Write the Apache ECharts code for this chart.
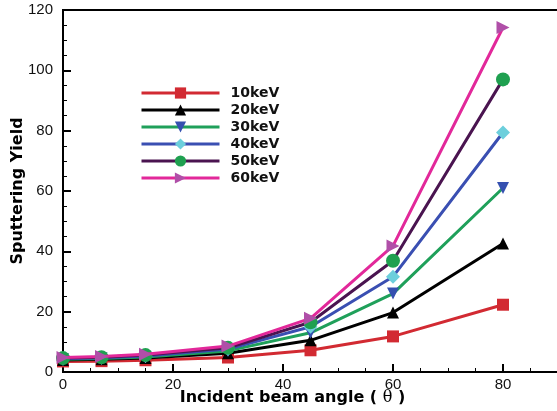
<!DOCTYPE html>
<html><head><meta charset="utf-8">
<script src="https://cdn.jsdelivr.net/npm/echarts@6/dist/echarts.min.js"></script>
<style>html,body{margin:0;padding:0;background:#fff}#c{width:557px;height:411px}</style>
</head><body><div id="c"></div>
<script>
const angles = [0, 7, 15, 30, 45, 60, 80];
const seriesNames = ['10keV', '20keV', '30keV', '40keV', '50keV', '60keV'];
const y10 = [3.5, 3.6, 3.9, 4.8, 7.2, 11.8, 22.3];
const y20 = [4.0, 4.2, 4.6, 6.2, 10.5, 19.7, 42.6];
const y30 = [4.2, 4.5, 5.0, 7.0, 13.0, 26.0, 61.0];
const y40 = [4.4, 4.7, 5.3, 7.6, 15.0, 31.6, 79.4];
const y50 = [4.6, 4.9, 5.6, 8.0, 16.5, 36.9, 97.0];
const y60 = [4.8, 5.1, 5.9, 8.6, 17.8, 41.8, 114.2];
const values = [y10, y20, y30, y40, y50, y60];
const lineColors = ['#d22a32', '#000000', '#1fa05a', '#3a4fb2', '#4a1450', '#e2289a'];
const markColors = ['#d22a32', '#000000', '#3550b0', '#6ccfdc', '#1fa050', '#b04fa8'];
const symbols = ['rect', 'triangle', 'path://M0,0 L10,0 L5,9 Z', 'diamond', 'circle', 'path://M0,0 L9,5 L0,10 Z'];
const sizes = [12, 12, 12, 14, 14, 13];

const chart = echarts.init(document.getElementById('c'));
const series = seriesNames.map((n, i) => ({
  name: n, type: 'line',
  data: angles.map((a, j) => [a, values[i][j]]),
  symbol: symbols[i], symbolSize: sizes[i],
  lineStyle: { color: lineColors[i], width: 3 },
  itemStyle: { color: markColors[i] },
  z: 2 + i
}));
const titleFont = 'DejaVu Sans, Liberation Sans, Arial';
chart.setOption({
  animation: false,
  grid: { left: 63, top: 10, width: 495, height: 362, show: true, borderColor: '#000', borderWidth: 2,
          containLabel: false, outerBoundsMode: 'none' },
  legend: {
    orient: 'vertical', left: 135, top: 81, itemWidth: 78, itemHeight: 14, itemGap: 3,
    lineStyle: { width: 3 },
    textStyle: { fontFamily: titleFont, fontWeight: 'bold', fontSize: 14, color: '#111', padding: [0, 0, 0, 6] },
    data: seriesNames
  },
  xAxis: {
    type: 'value', min: 0, max: 90, interval: 20,
    name: 'Incident beam angle ( {t|θ} )', nameLocation: 'middle', nameGap: 18, nameMoveOverlap: false,
    nameTextStyle: { fontFamily: titleFont, fontWeight: 'bold', fontSize: 16, color: '#000', padding: [0, 36, 0, 0],
      rich: { t: { fontFamily: 'DejaVu Serif, serif', fontWeight: 'normal', fontSize: 16, color: '#000' } } },
    axisLine: { lineStyle: { color: '#000', width: 2 } },
    axisTick: { inside: true, length: 8, lineStyle: { color: '#000', width: 2 } },
    minorTick: { show: true, splitNumber: 4, length: 4, lineStyle: { color: '#000', width: 1 } },
    axisLabel: { fontFamily: 'Liberation Sans, Arial', fontSize: 15, color: '#111', margin: 5, showMaxLabel: false },
    splitLine: { show: false }
  },
  yAxis: {
    type: 'value', min: 0, max: 120, interval: 20,
    name: 'Sputtering Yield', nameLocation: 'middle', nameGap: 37, nameRotate: 90, nameMoveOverlap: false,
    nameTextStyle: { fontFamily: titleFont, fontWeight: 'bold', fontSize: 16, color: '#000' },
    axisLine: { lineStyle: { color: '#000', width: 2 } },
    axisTick: { inside: true, length: 8, lineStyle: { color: '#000', width: 2 } },
    minorTick: { show: true, splitNumber: 4, length: 4, lineStyle: { color: '#000', width: 1 } },
    axisLabel: { fontFamily: 'Liberation Sans, Arial', fontSize: 15, color: '#111', margin: 10 },
    splitLine: { show: false }
  },
  series: series
});
</script></body></html>
